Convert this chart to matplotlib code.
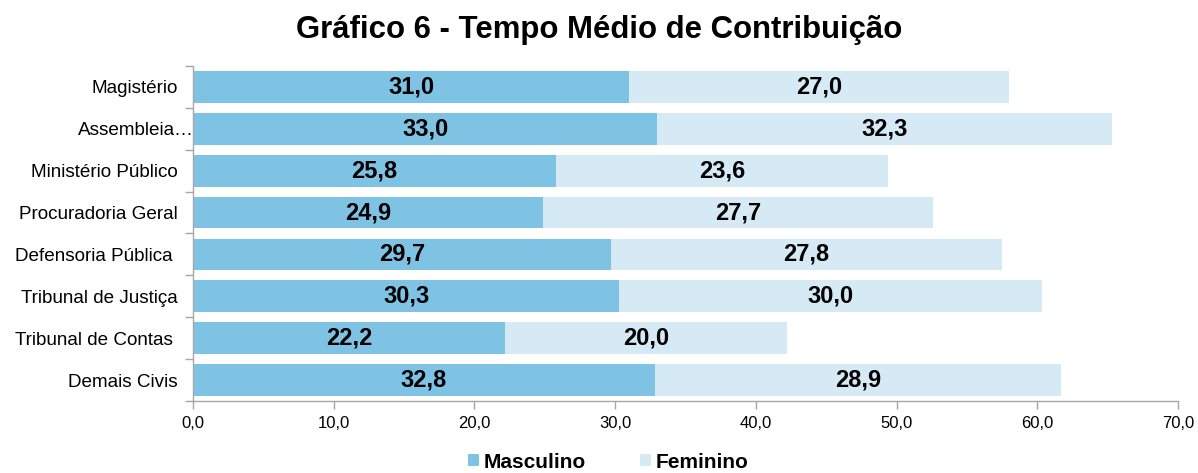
import numpy as np
import matplotlib.pyplot as plt
import matplotlib.transforms as mtransforms
from matplotlib.ticker import FixedLocator, FuncFormatter

plt.rcParams['font.family'] = ['Liberation Sans', 'DejaVu Sans']

categories = ['Magistério', 'Assembleia…', 'Ministério Público', 'Procuradoria Geral',
              'Defensoria Pública ', 'Tribunal de Justiça', 'Tribunal de Contas ', 'Demais Civis']
masculino = [31.0, 33.0, 25.8, 24.9, 29.7, 30.3, 22.2, 32.8]
feminino = [27.0, 32.3, 23.6, 27.7, 27.8, 30.0, 20.0, 28.9]

c_masc = '#7fc3e4'
c_fem = '#d5eaf5'
grey = '#a6a6a6'

fig = plt.figure(figsize=(11.98, 4.73), dpi=100)
ax = fig.add_axes([0.1611, 0.1522, 0.9833 - 0.1611, 0.8605 - 0.1522])

y = np.arange(len(categories))
h = 0.76
ax.barh(y, masculino, height=h, color=c_masc, label='Masculino')
ax.barh(y, feminino, left=masculino, height=h, color=c_fem, label='Feminino')

fmt = lambda v: f'{v:.1f}'.replace('.', ',')
for i, (m, f) in enumerate(zip(masculino, feminino)):
    ax.text(m / 2, i, fmt(m), ha='center', va='center', fontsize=17, fontweight='bold')
    ax.text(m + f / 2, i, fmt(f), ha='center', va='center', fontsize=17, fontweight='bold')

ax.set_ylim(len(categories) - 0.5, -0.5)
ax.set_xlim(0, 70)
ax.set_xticks(np.arange(0, 71, 10))
ax.xaxis.set_major_formatter(FuncFormatter(lambda v, p: fmt(v)))
ax.set_yticks(y)
ax.set_yticklabels(categories)
ax.yaxis.set_minor_locator(FixedLocator(np.arange(-0.5, len(categories), 1)))
ax.tick_params(axis='y', which='major', length=0, pad=11, labelsize=13.6)
ax.tick_params(axis='y', which='minor', length=6, color=grey, width=1)
ax.tick_params(axis='x', length=6, color=grey, width=1, pad=5, labelsize=12)

# truncated label overlaps the axis in the original
lbl = ax.get_yticklabels()[1]
lbl.set_transform(lbl.get_transform() + mtransforms.ScaledTranslation(0.16, 0, fig.dpi_scale_trans))

for s in ['top', 'right']:
    ax.spines[s].set_visible(False)
for s in ['left', 'bottom']:
    ax.spines[s].set_color(grey)
    ax.spines[s].set_linewidth(1)

fig.text(0.5, 1 - 30 / 473, 'Gráfico 6 - Tempo Médio de Contribuição', fontsize=22.4,
         fontweight='bold', ha='center', va='center')

leg = fig.legend(loc='center', bbox_to_anchor=(0.508, 1 - 462 / 473), ncol=2, frameon=False,
                 prop={'size': 15, 'weight': 'bold'}, handlelength=0.5, handleheight=0.5,
                 handletextpad=0.25, columnspacing=2.6)

fig.savefig('out.png', dpi=100)
